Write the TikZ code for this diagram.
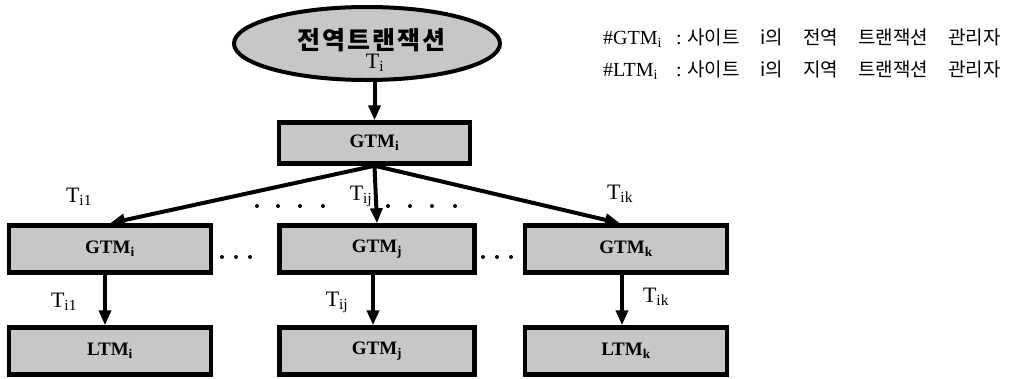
\documentclass[tikz,border=0pt]{standalone}
\usepackage{fontspec}
\setmainfont{Liberation Serif}
\newfontfamily\kr{Noto Sans CJK KR}
\usetikzlibrary{arrows.meta,shapes.geometric}
\newcommand\notesg[2]{\makebox[#1pt][l]{#2}}
\begin{document}
\begin{tikzpicture}[x=1pt,y=-1pt,
  shade/.style={fill=black!22},
  box/.style={draw,line width=4.5pt,shade,minimum width=202pt,minimum height=47pt,inner sep=0pt,
    font=\bfseries\fontsize{19}{19}\selectfont},
  conn/.style={line width=4pt,-{Triangle[length=15pt,width=12pt]}},
  tlab/.style={font=\fontsize{22}{22}\selectfont,inner sep=0pt},
  note/.style={anchor=west,inner sep=0pt,font=\fontsize{20}{20}\selectfont}]
\useasboundingbox (0,0) rectangle (1022,378);

% top ellipse
\node[ellipse,draw,line width=4pt,shade,minimum width=266pt,minimum height=73pt,inner sep=0pt] (ell) at (367,43.5) {};
\node[inner sep=0pt,font=\kr\bfseries\fontsize{25}{25}\selectfont] (elltxt) at (371,40)
  {전\hspace{2pt}역\hspace{2pt}트\hspace{2pt}랜\hspace{2pt}잭\hspace{2pt}션};
\node[tlab] (ellT) at (375,63) {T\textsubscript{i}};

% boxes
\node[box,minimum width=191pt,minimum height=41pt] (gtm) at (374.5,143) {GTM\textsubscript{i}};
\node[box] (g1) at (110,249) {GTM\textsubscript{i}};
\node[box,minimum width=195pt] (gj) at (377,249) {GTM\textsubscript{j}};
\node[box] (gk) at (626,249) {GTM\textsubscript{k}};
\node[box] (l1) at (110,351) {LTM\textsubscript{i}};
\node[box,minimum width=195pt] (lj) at (377,351) {GTM\textsubscript{j}};
\node[box] (lk) at (626,351) {LTM\textsubscript{k}};

% labels
\node[tlab] (tu1) at (79,197) {T\textsubscript{i1}};
\node[tlab] (tuj) at (361,196) {T\textsubscript{ij}};
\node[tlab] (tuk) at (620,194) {T\textsubscript{ik}};
\node[tlab] (td1) at (64,302) {T\textsubscript{i1}};
\node[tlab] (tdj) at (337,302) {T\textsubscript{ij}};
\node[tlab] (tdk) at (656,297) {T\textsubscript{ik}};

% dots
\foreach \x in {257,278,300,323,388,410,432,455} \fill (\x,206) circle (2pt);
\foreach \x in {222,236,250,483,497,511} \fill (\x,257) circle (2pt);

% connectors
\draw[conn] (ell.south -| gtm.north) -- (gtm.north);
\draw[conn] (gtm.south) -- (g1.north);
\draw[conn] (gtm.south) -- (gj.north);
\draw[conn] (gtm.south) -- ([xshift=-6pt]gk.north);
\draw[conn] ([xshift=-5pt]g1.south) -- ([xshift=-5pt]l1.north);
\draw[conn] ([xshift=-4pt]gj.south) -- ([xshift=-4pt]lj.north);
\draw[conn] ([xshift=-4pt]gk.south) -- ([xshift=-4pt]lk.north);

% notes
\node[note] (n1) at (603,38) {\notesg{73}{\#GTM\textsubscript{i}}\notesg{11}{:}\kr\fontsize{19}{19}\selectfont
  \notesg{73}{사이트}\notesg{43}{i의}\notesg{55}{전역}\notesg{90}{트랜잭션}관리자};
\node[note] (n2) at (603,70) {\notesg{73}{\#LTM\textsubscript{i}}\notesg{11}{:}\kr\fontsize{19}{19}\selectfont
  \notesg{73}{사이트}\notesg{43}{i의}\notesg{55}{지역}\notesg{90}{트랜잭션}관리자};
\end{tikzpicture}
\end{document}
